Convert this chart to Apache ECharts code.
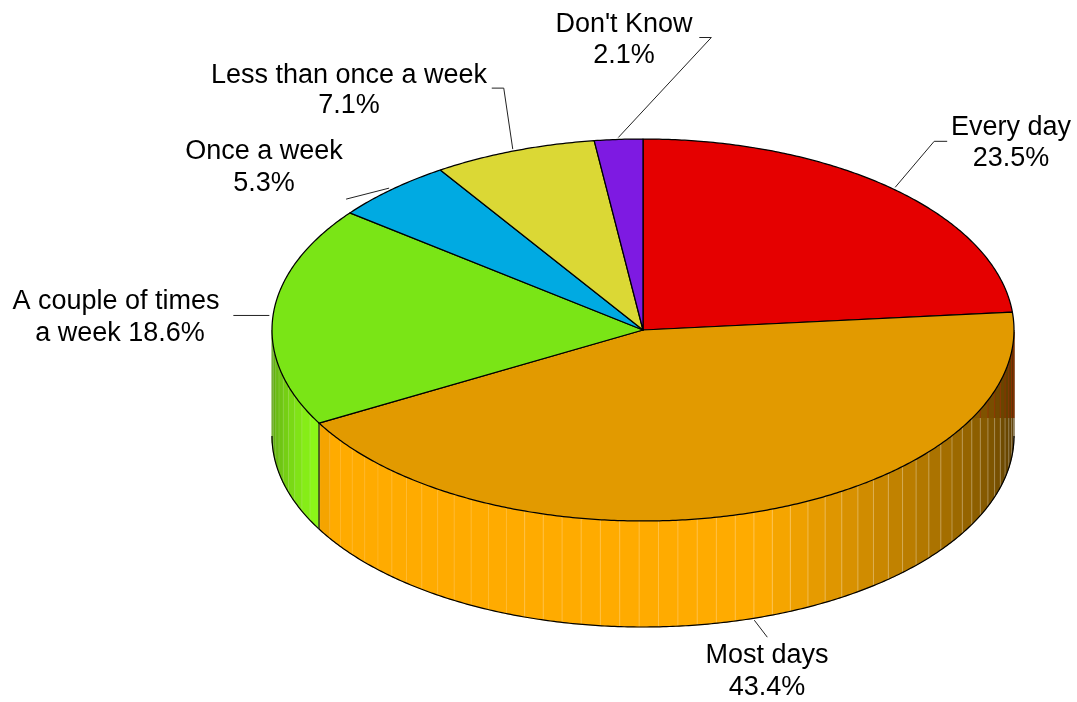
<!DOCTYPE html>
<html>
<head>
<meta charset="utf-8">
<style>html,body{margin:0;padding:0;background:#fff}#c{width:1077px;height:702px}</style>
<script src="https://cdn.jsdelivr.net/npm/echarts@6/dist/echarts.min.js"></script>
</head>
<body>
<div id="c"></div>
<script>
// ---- data ----
const categories = ['Every day', 'Most days', 'A couple of times a week', 'Once a week', 'Less than once a week', "Don't Know"];
const percents = [23.5, 43.4, 18.6, 5.3, 7.1, 2.1];
const labelLines = [
  ['Every day', '23.5%'],
  ['Most days', '43.4%'],
  ['A couple of times', 'a week 18.6%'],
  ['Once a week', '5.3%'],
  ['Less than once a week', '7.1%'],
  ["Don't Know", '2.1%']
];
const topColors = ['#E50000', '#E29A00', '#7AE516', '#00AAE2', '#DBD835', '#7E1AE2'];
const wallColors = ['#FF0000', '#FFAB00', '#8AF518', '#00BFFF', '#F5F23C', '#8E1DFF'];

// ---- layout (pixels, separate from the data) ----
const labelCentres = [
  [[1011, 128], [1011, 159]],
  [[767, 656], [767, 688]],
  [[116, 302], [120, 334]],
  [[264, 152], [264, 184]],
  [[349, 76], [349, 106]],
  [[624, 25], [624, 56]]
];
// leader polyline after its anchor on the slice, as offsets from that anchor
const leaderSteps = [
  [[39, -46], [52, -46]],
  [[13, 17]],
  [[-36, 0]],
  [[-43, 11]],
  [[-9, -61], [-21, -61]],
  [[93, -100], [81, -100]]
];
const DEPTH = 106 / 191;     // wall height in y-axis units (unit ellipse)
const STEP = 3;              // wall facet width in degrees
const ANCHOR_OUT = 1.01;     // leader anchors sit just outside the rim
const total = percents.reduce((a, b) => a + b, 0);
const starts = [];
percents.reduce((acc, v, i) => { starts[i] = acc / total * 360; return acc + v; }, 0);

const rad = d => d * Math.PI / 180;
const ell = (api, deg, drop, k) => api.coord([(k || 1) * Math.sin(rad(deg)), (k || 1) * Math.cos(rad(deg)) - (drop || 0)]);
function shade(hex, f) {
  const n = parseInt(hex.slice(1), 16);
  const c = s => Math.round(((n >> s) & 255) * f);
  return 'rgb(' + c(16) + ',' + c(8) + ',' + c(0) + ')';
}
function wallFactor(t) {
  if (t > 240.84) return Math.max(0.6, 1 - (t - 243) * 0.0135);
  if (t > 237.6) return 0.96;
  if (t >= 162) return 1;
  return 0.3 + (t - 90) / 72 * 0.7;
}
function arc(api, a, b, drop) {
  const pts = [];
  const n = Math.max(1, Math.ceil(Math.abs(b - a) / 0.5));
  for (let i = 0; i <= n; i++) pts.push(ell(api, a + (b - a) * i / n, drop));
  return pts;
}

function renderWall(params, api) {
  const i = params.dataIndex;
  const a = starts[i], b = a + api.value(0) / total * 360;
  const from = Math.max(a, 90), to = Math.min(b, 270);
  const children = [];
  if (to <= from) return { type: 'group', children };
  // the dark band's lower edge is the bottom of the first slice's far wall
  const limitY = ell(api, starts[1], DEPTH)[1];
  for (let s = a; s < b - 1e-6; s += STEP) {
    const s0 = Math.max(s, from), e0 = Math.min(s + STEP, to);
    if (e0 <= s0) continue;
    const mid = (s0 + e0) / 2;
    const col = shade(wallColors[i], wallFactor(mid));
    const top = arc(api, s0, e0, 0), bot = arc(api, e0, s0, DEPTH);
    children.push({ type: 'polygon', z2: 1, shape: { points: top.concat(bot) },
      style: { fill: col, stroke: col, lineWidth: 0.6 } });
    if (mid < 180) {
      const up = top.filter(p => p[1] < limitY);
      if (up.length > 1) {
        const low = up.slice().reverse().map(p => [p[0], limitY]);
        children.push({ type: 'polygon', z2: 2, shape: { points: up.concat(low) },
          style: { fill: 'rgba(70,15,0,0.1)' } });
      }
    }
    if (s > a && s >= from) {
      const p = ell(api, s, 0), q = ell(api, s, DEPTH);
      const alpha = s < 165 ? 0.3 : s < 200 ? 0.24 : s < 225 ? 0.16 : 0.12;
      const light = 'rgba(255,255,255,' + (i === 2 ? 0.16 : alpha) + ')';
      if (s < 180 && p[1] < limitY) {
        children.push({ type: 'line', z2: 3, shape: { x1: p[0], y1: p[1], x2: p[0], y2: limitY },
          style: { stroke: 'rgba(150,45,0,0.75)', lineWidth: 1 } });
        children.push({ type: 'line', z2: 3, shape: { x1: p[0], y1: limitY, x2: q[0], y2: q[1] },
          style: { stroke: light, lineWidth: 1 } });
      } else {
        children.push({ type: 'line', z2: 3, shape: { x1: p[0], y1: p[1], x2: q[0], y2: q[1] },
          style: { stroke: light, lineWidth: 1 } });
      }
    }
  }
  children.push({ type: 'polyline', z2: 4, shape: { points: arc(api, from, to, DEPTH) },
    style: { fill: 'none', stroke: '#000', lineWidth: 1.2 } });
  if (b > 90 && b < 270) {
    const p = ell(api, b, 0), q = ell(api, b, DEPTH);
    children.push({ type: 'line', z2: 5, shape: { x1: p[0], y1: p[1], x2: q[0], y2: q[1] },
      style: { stroke: '#222', lineWidth: 1.3 } });
  }
  return { type: 'group', children };
}

function renderTop(params, api) {
  const i = params.dataIndex;
  const a = starts[i], b = a + api.value(0) / total * 360;
  const pts = [api.coord([0, 0])].concat(arc(api, a, b, 0));
  return { type: 'polygon', shape: { points: pts },
    style: { fill: topColors[i], stroke: '#000', lineWidth: 1.25, lineJoin: 'round' } };
}

function renderLabel(params, api) {
  const i = params.dataIndex;
  const mid = starts[i] + api.value(0) / total * 180;
  const wallDrop = (mid > 90 && mid < 270) ? DEPTH : 0;
  const anchor = ell(api, mid, wallDrop, ANCHOR_OUT);
  const pts = [anchor].concat(leaderSteps[i].map(o => [anchor[0] + o[0], anchor[1] + o[1]]));
  const children = [{ type: 'polyline', shape: { points: pts },
    style: { fill: 'none', stroke: '#222', lineWidth: 1 } }];
  labelLines[i].forEach((txt, k) => {
    children.push({ type: 'text', x: labelCentres[i][k][0], y: labelCentres[i][k][1],
      style: { text: txt, fill: '#000', font: '27px "Liberation Sans", Arial, sans-serif',
        align: 'center', verticalAlign: 'middle' } });
  });
  return { type: 'group', children };
}

const seriesData = percents.map((v, i) => ({ name: categories[i], value: v }));
const base = { type: 'custom', coordinateSystem: 'cartesian2d', silent: true, clip: false,
  data: seriesData, encode: { x: -1, y: -1 } };
const chart = echarts.init(document.getElementById('c'), null, { renderer: 'canvas' });
chart.setOption({
  animation: false,
  backgroundColor: '#fff',
  grid: { left: 272, top: 139, width: 742, height: 382 },
  xAxis: { type: 'value', min: -1, max: 1, show: false },
  yAxis: { type: 'value', min: -1, max: 1, show: false },
  series: [
    Object.assign({}, base, { name: 'walls', z: 1, renderItem: renderWall }),
    Object.assign({}, base, { name: 'tops', z: 2, renderItem: renderTop }),
    Object.assign({}, base, { name: 'labels', z: 3, renderItem: renderLabel })
  ]
});
</script>
</body>
</html>
